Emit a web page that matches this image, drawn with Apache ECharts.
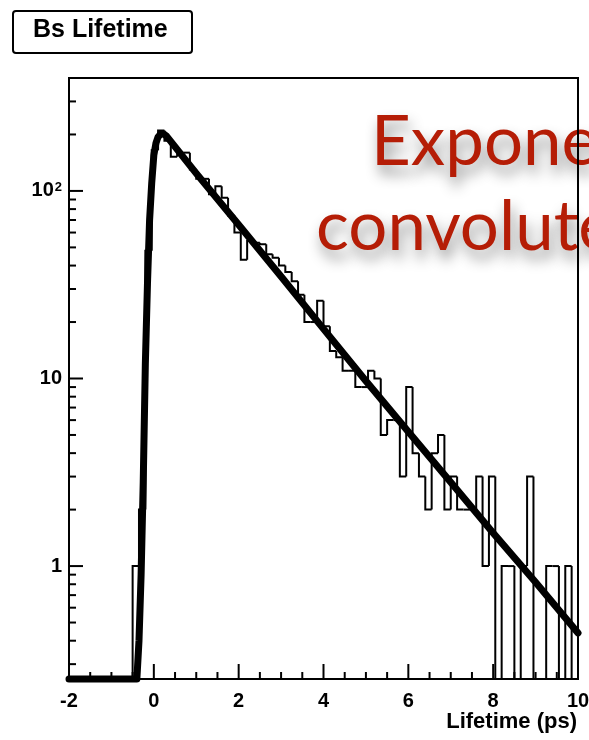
<!DOCTYPE html>
<html>
<head>
<meta charset="utf-8">
<script src="https://cdn.jsdelivr.net/npm/echarts/dist/echarts.min.js"></script>
<style>
  html, body { margin: 0; padding: 0; background: #fff; }
  #chart { width: 589px; height: 740px; }
</style>
</head>
<body>
<div id="chart"></div>
<script>
// Histogram binning: 80 bins of 0.15 ps from -2 to 10 ps
const binStart = -2;
const binWidth = 0.15;
const binCounts = [
  0, 0, 0, 0, 0, 0, 0, 0, 0, 0,
  1, 2, 48, 165, 210, 185, 152, 160, 160, 130,
  116, 116, 96, 106, 92, 74, 60, 43, 54, 53,
  52, 46, 44, 40, 37, 33, 28, 20, 20, 26,
  19, 14, 13, 11, 11, 9, 9, 11, 10, 5,
  6, 6, 3, 9, 4, 3, 2, 4, 5, 2,
  3, 2, 2, 2, 3, 1, 3, 0, 1, 1,
  0, 1, 3, 0, 0, 1, 1, 0, 1, 0
];

// Fitted decay curve (exponential convolved with resolution)
const fitX = [-2, -0.4, -0.35, -0.3, -0.25, -0.2, -0.15, -0.1, -0.05, 0, 0.05, 0.1, 0.15, 0.22, 0.3, 1, 2, 3, 4, 5, 6, 7, 8, 9, 10];
const fitY = [0.25, 0.25, 0.4, 0.9, 2.8, 12, 32, 70, 110, 155, 180, 194, 200, 202, 196, 124, 66, 35, 18.4, 9.7, 5.2, 2.8, 1.5, 0.82, 0.44];

// Axis ranges and tick marks
const xMin = -2, xMax = 10, xStep = 2;
const yMin = 0.25, yMax = 400;
const xMinorTicks = [-1.5, -1, -0.5, 0.5, 1, 1.5, 2.5, 3, 3.5, 4.5, 5, 5.5, 6.5, 7, 7.5, 8.5, 9, 9.5];
const xMajorTicks = [-2, 0, 2, 4, 6, 8, 10];
const yMajorTicks = [1, 10, 100];
const yMinorTicks = [0.3, 0.4, 0.5, 0.6, 0.7, 0.8, 0.9, 2, 3, 4, 5, 6, 7, 8, 9, 20, 30, 40, 50, 60, 70, 80, 90, 200, 300];

const titleText = 'Bs Lifetime';
const xTitle = 'Lifetime (ps)';
const bannerLines = ['Exponential', 'convoluted'];

const LABEL_FONT = '"Liberation Sans", Arial, Helvetica, sans-serif';

// histogram outline segments: [xLo, xHi, level, previous level]
const histData = binCounts.map((c, i) => {
  const lo = binStart + i * binWidth;
  const prev = i === 0 ? 0 : binCounts[i - 1];
  return [lo, lo + binWidth, Math.max(c, yMin), Math.max(prev, yMin)];
});

const tickData = [];
xMajorTicks.forEach(v => tickData.push([v, yMin, 15, 0]));
xMinorTicks.forEach(v => tickData.push([v, yMin, 7, 0]));
yMajorTicks.forEach(v => tickData.push([xMin, v, 14, 1]));
yMinorTicks.forEach(v => tickData.push([xMin, v, 7, 1]));

const chart = echarts.init(document.getElementById('chart'), null, { renderer: 'canvas' });

chart.setOption({
  backgroundColor: '#ffffff',
  animation: false,
  grid: {
    left: 69, right: 11, top: 78, bottom: 61,
    show: true, borderColor: '#000', borderWidth: 2,
    containLabel: false, outerBoundsMode: 'none'
  },
  xAxis: {
    type: 'value', min: xMin, max: xMax, interval: xStep,
    axisLine: { show: true, onZero: false, lineStyle: { color: '#000', width: 2 } },
    axisTick: { show: false },
    splitLine: { show: false },
    axisLabel: {
      color: '#000', fontFamily: LABEL_FONT, fontWeight: 'bold', fontSize: 20, margin: 12,
      hideOverlap: false
    }
  },
  yAxis: {
    type: 'log', min: yMin, max: yMax, logBase: 10,
    axisLine: { show: true, onZero: false, lineStyle: { color: '#000', width: 2 } },
    axisTick: { show: false },
    splitLine: { show: false },
    axisLabel: {
      color: '#000', fontFamily: LABEL_FONT, fontWeight: 'bold', fontSize: 20, margin: 7,
      showMinLabel: false, showMaxLabel: false,
      formatter: function (v) {
        if (Math.abs(v - 100) < 1e-6) return '{n|10}{s|2}';
        if (Math.abs(v - 10) < 1e-6) return '{n|10}';
        if (Math.abs(v - 1) < 1e-6) return '{n|1}';
        return '';
      },
      rich: {
        n: { fontFamily: LABEL_FONT, fontWeight: 'bold', fontSize: 20, color: '#000' },
        s: { fontFamily: LABEL_FONT, fontWeight: 'bold', fontSize: 13, color: '#000', verticalAlign: 'top', padding: [0, 0, 8, 1] }
      }
    }
  },
  graphic: [
    {
      type: 'text', z: -1, left: 371, top: 108,
      style: {
        text: bannerLines[0], fill: '#b51d06', font: '69px Lato, "Open Sans", sans-serif',
        textShadowColor: 'rgba(0,0,0,0.45)', textShadowBlur: 14, textShadowOffsetX: 3, textShadowOffsetY: 9
      }
    },
    {
      type: 'text', z: -1, left: 316, top: 193,
      style: {
        text: bannerLines[1], fill: '#b51d06', font: '69px Lato, "Open Sans", sans-serif',
        textShadowColor: 'rgba(0,0,0,0.45)', textShadowBlur: 14, textShadowOffsetX: 3, textShadowOffsetY: 9
      }
    },
    {
      type: 'rect', left: 12, top: 10,
      shape: { width: 179, height: 42, r: 3 },
      style: { fill: '#fff', stroke: '#000', lineWidth: 2 }
    },
    {
      type: 'text', left: 33, top: 18,
      style: { text: titleText, fill: '#000', font: 'bold 25px ' + LABEL_FONT }
    },
    {
      type: 'text', right: 12, top: 711,
      style: { text: xTitle, fill: '#000', font: 'bold 22px ' + LABEL_FONT }
    }
  ],
  series: [
    {
      name: 'counts',
      type: 'custom',
      coordinateSystem: 'cartesian2d',
      clip: false,
      z: 3,
      encode: { x: [0, 1], y: 2 },
      data: histData,
      renderItem: function (params, api) {
        const lo = api.value(0), hi = api.value(1), v = api.value(2), pv = api.value(3);
        const pPrev = api.coord([lo, pv]);
        const pA = api.coord([lo, v]);
        const pB = api.coord([hi, v]);
        return {
          type: 'polyline',
          shape: { points: [pPrev, pA, pB] },
          style: { stroke: '#000', lineWidth: 2, fill: null, lineJoin: 'miter' }
        };
      }
    },
    {
      name: 'ticks',
      type: 'custom',
      coordinateSystem: 'cartesian2d',
      clip: false,
      z: 6,
      encode: { x: 0, y: 1 },
      data: tickData,
      renderItem: function (params, api) {
        const p = api.coord([api.value(0), api.value(1)]);
        const len = api.value(2);
        const isY = api.value(3) === 1;
        const shape = isY
          ? { x1: p[0], y1: p[1], x2: p[0] + len, y2: p[1] }
          : { x1: p[0], y1: p[1], x2: p[0], y2: p[1] - len };
        return { type: 'line', shape: shape, style: { stroke: '#000', lineWidth: 2 } };
      }
    },
    {
      name: 'fit',
      type: 'line',
      data: fitX.map((x, i) => [x, fitY[i]]),
      showSymbol: false,
      smooth: false,
      clip: false,
      z: 5,
      lineStyle: { color: '#000', width: 7, cap: 'round', join: 'round' }
    }
  ]
});
</script>
</body>
</html>
